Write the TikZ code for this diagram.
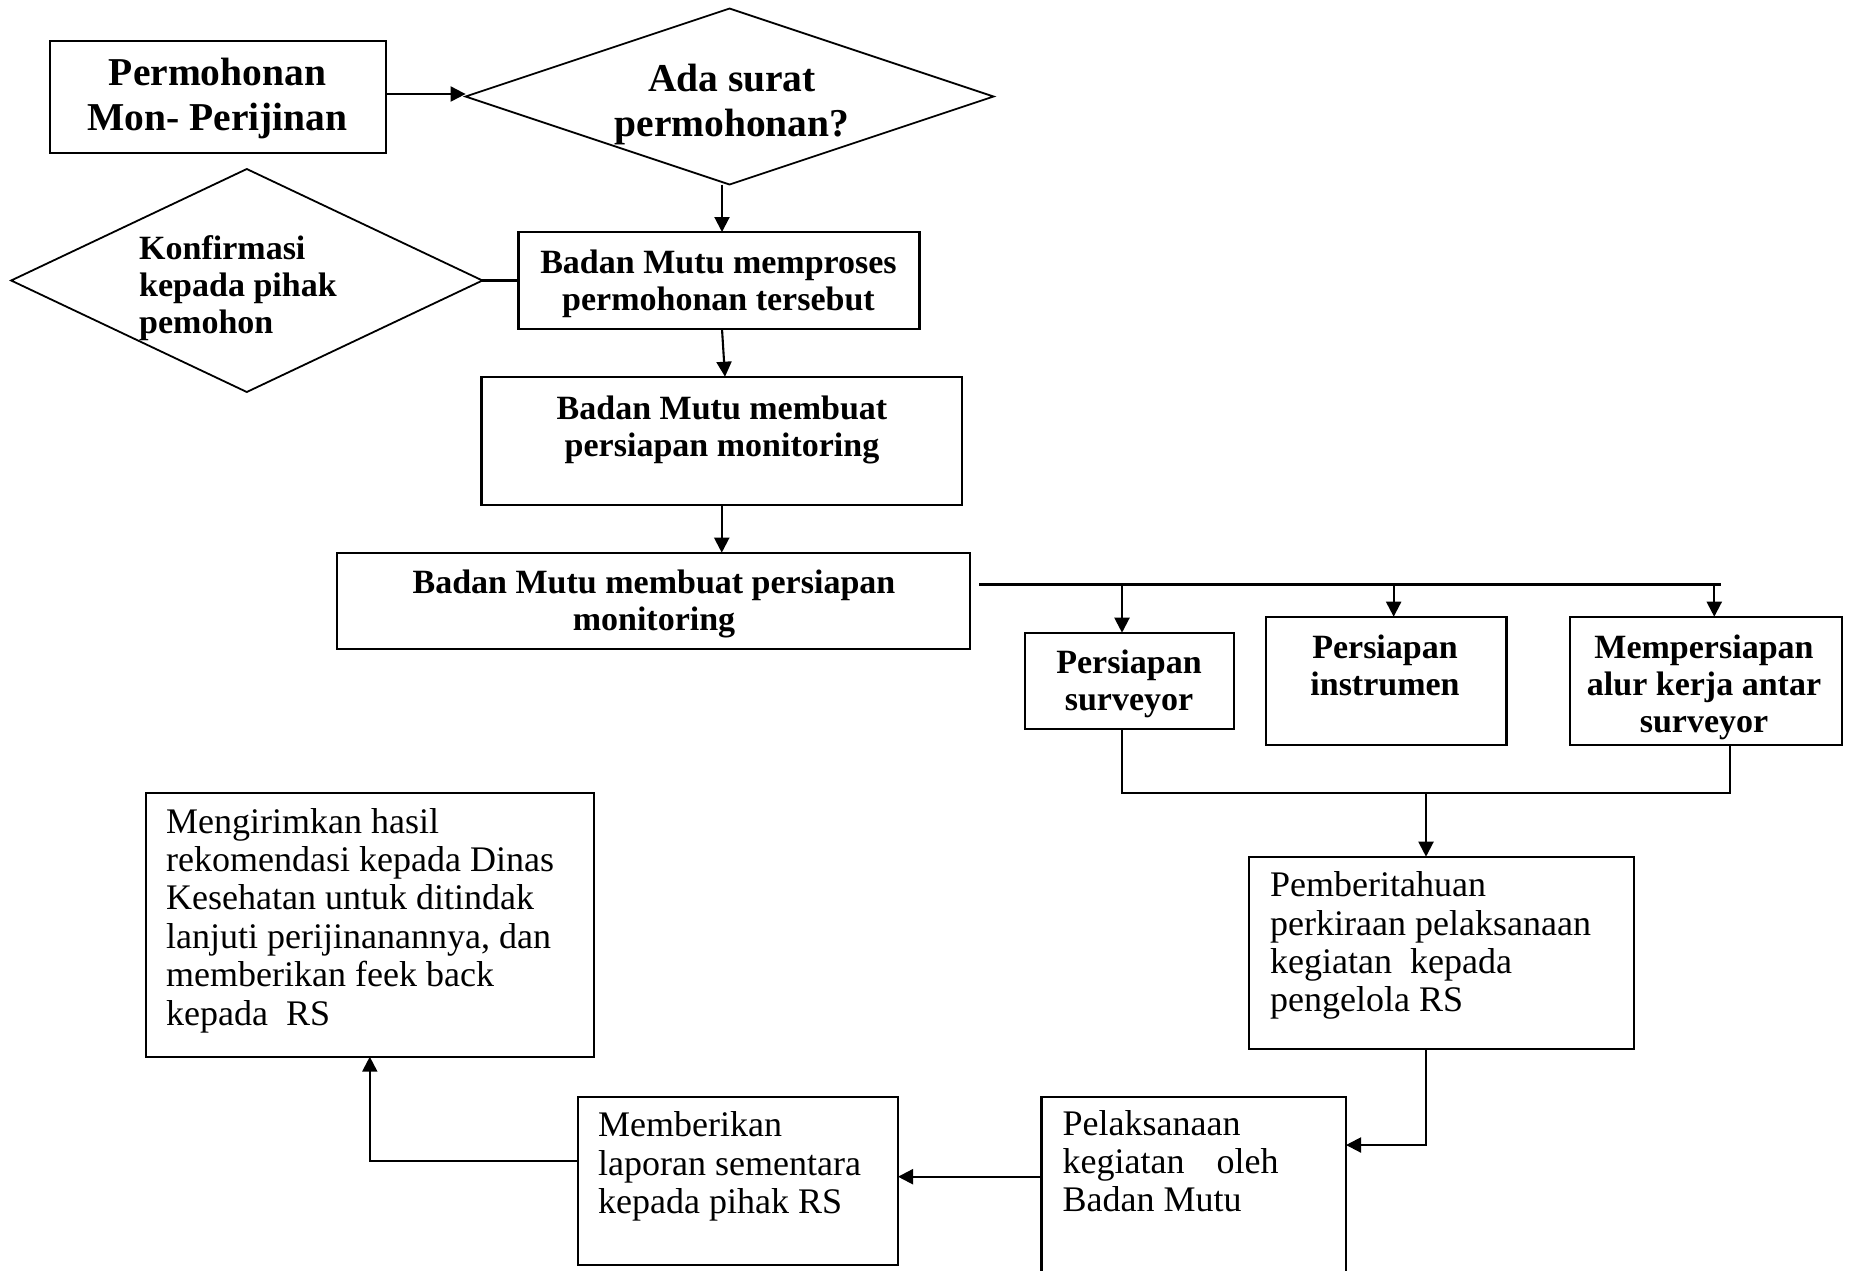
\documentclass[tikz,border=0pt]{standalone}
\usepackage{fontspec}
\setmainfont{Liberation Serif}
\usetikzlibrary{shapes.geometric,arrows.meta,calc}
\newcommand{\ctext}[1]{\begin{tabular}[t]{@{}c@{}}#1\end{tabular}}
\newcommand{\ltext}[1]{\begin{tabular}[t]{@{}l@{}}#1\end{tabular}}
\begin{document}
\begin{tikzpicture}[x=1pt,y=-1pt,
  box/.style={draw, line width=2.1pt, inner sep=0pt, outer sep=0pt},
  boldbox/.style={box, line width=2.3pt},
  dia/.style={draw, diamond, line width=1.8pt, inner sep=0pt, outer sep=0pt},
  conn/.style={line width=2.1pt},
  arr/.style={conn, -{Triangle[length=15pt,width=15pt]}},
  big/.style={font=\fontsize{39.5}{45}\selectfont\bfseries, inner sep=0pt},
  med/.style={font=\fontsize{34}{37.4}\selectfont\bfseries, inner sep=0pt},
  reg/.style={font=\fontsize{36}{38.4}\selectfont, inner sep=0pt}]

\useasboundingbox[fill=white] (0,0) rectangle (1851,1270);

% boxes and diamonds
\node[boldbox, minimum width=336pt, minimum height=112pt] (a) at (217.75,96.85) {};
\node[dia, minimum width=528pt, minimum height=176pt] (b) at (729.6,96.5) {};
\node[boldbox, minimum width=401pt, minimum height=97pt] (c) at (719,280.5) {};
\node[dia, minimum width=471.3pt, minimum height=223pt] (d) at (246.8,280.5) {};
\node[boldbox, minimum width=480.5pt, minimum height=128.3pt] (e) at (721.75,440.85) {};
\node[boldbox, minimum width=633pt, minimum height=96pt] (f) at (653.5,600.7) {};
\node[boldbox, minimum width=209pt, minimum height=96.3pt] (g) at (1129.5,680.85) {};
\node[boldbox, minimum width=240.9pt, minimum height=128.3pt] (h) at (1386.15,680.85) {};
\node[boldbox, minimum width=272.1pt, minimum height=128.3pt] (i) at (1705.75,680.85) {};
\node[box, minimum width=385pt, minimum height=192.3pt] (j) at (1441.5,952.85) {};
\node[box, minimum width=304.5pt, minimum height=193.3pt] (k) at (1193.75,1193.35) {};
\node[box, minimum width=320.4pt, minimum height=168.3pt] (l) at (737.8,1180.85) {};
\node[box, minimum width=447.7pt, minimum height=264pt] (m) at (369.85,924.7) {};

% texts
\node[big, anchor=base] (ta) at (217.5,85) {\ctext{Permohonan\\Mon- Perijinan}};
\node[big, anchor=base] (tb) at (732,91.7) {\ctext{Ada surat\\permohonan?}};
\node[med, anchor=base] (tc) at (718.5,273.3) {\ctext{Badan Mutu memproses\\permohonan tersebut}};
\node[med, anchor=base west] (td) at (139,259) {\ltext{Konfirmasi\\kepada pihak\\pemohon}};
\node[med, anchor=base] (te) at (722,419.3) {\ctext{Badan Mutu membuat\\persiapan monitoring}};
\node[med, anchor=base] (tf) at (654,593.3) {\ctext{Badan Mutu membuat persiapan\\monitoring}};
\node[med, anchor=base] (tg) at (1129,673) {\ctext{Persiapan\\surveyor}};
\node[med, anchor=base] (th) at (1385,658) {\ctext{Persiapan\\instrumen}};
\node[med, anchor=base] (ti) at (1704,658) {\ctext{Mempersiapan\\alur kerja antar\\surveyor}};
\node[reg, anchor=base west] (tj) at (1270,896.7) {\ltext{Pemberitahuan\\perkiraan pelaksanaan\\kegiatan\ \ kepada\\pengelola RS}};
\node[reg, anchor=base west] (tk) at (1062.5,1135) {\ltext{Pelaksanaan\\kegiatan\hspace{32pt}oleh\\Badan Mutu}};
\node[reg, anchor=base west] (tl) at (598,1136.7) {\ltext{Memberikan\\laporan sementara\\kepada pihak RS}};
\node[reg, anchor=base west] (tm) at (166,833) {\ltext{Mengirimkan hasil\\rekomendasi kepada Dinas\\Kesehatan untuk ditindak\\lanjuti perijinanannya, dan\\memberikan feek back\\kepada\ \ RS}};

% connectors
\draw[arr] (a.east |- 0,94) -- (b.west |- 0,94);
\draw[arr] ([xshift=-7.6pt]b.south) -- ([xshift=-7.6pt]b.south |- c.north);
\draw[conn] (d.east) -- (c.west);
\draw[arr] ([xshift=3pt]c.south) -- ([xshift=3.25pt]e.north);
\draw[arr] (e.south) -- (e.south |- f.north);
\coordinate (bus1) at (979,584.5);
\coordinate (bus2) at (1721,584.5);
\draw[conn] (bus1) -- (bus2);
\draw[arr] ([xshift=-7.5pt]g.north |- bus1) -- ([xshift=-7.5pt]g.north);
\draw[arr] ([xshift=7.5pt]h.north |- bus1) -- ([xshift=7.5pt]h.north);
\draw[arr] ([xshift=8.5pt]i.north |- bus1) -- ([xshift=8.5pt]i.north);
\coordinate (join) at (1426,792.7);
\draw[conn] ([xshift=-7.5pt]g.south) |- ([xshift=24pt]i.south |- join) -- ([xshift=24pt]i.south);
\draw[arr] (join) -- (join |- j.north);
\coordinate (jk) at (1426,1145);
\draw[arr] (j.south -| jk) |- (k.east |- jk);
\coordinate (kl) at (960,1176.7);
\draw[arr] (k.west |- kl) -- (l.east |- kl);
\coordinate (lm) at (369.8,1161);
\draw[arr] (l.west |- lm) -| (m.south -| lm);
\end{tikzpicture}
\end{document}
